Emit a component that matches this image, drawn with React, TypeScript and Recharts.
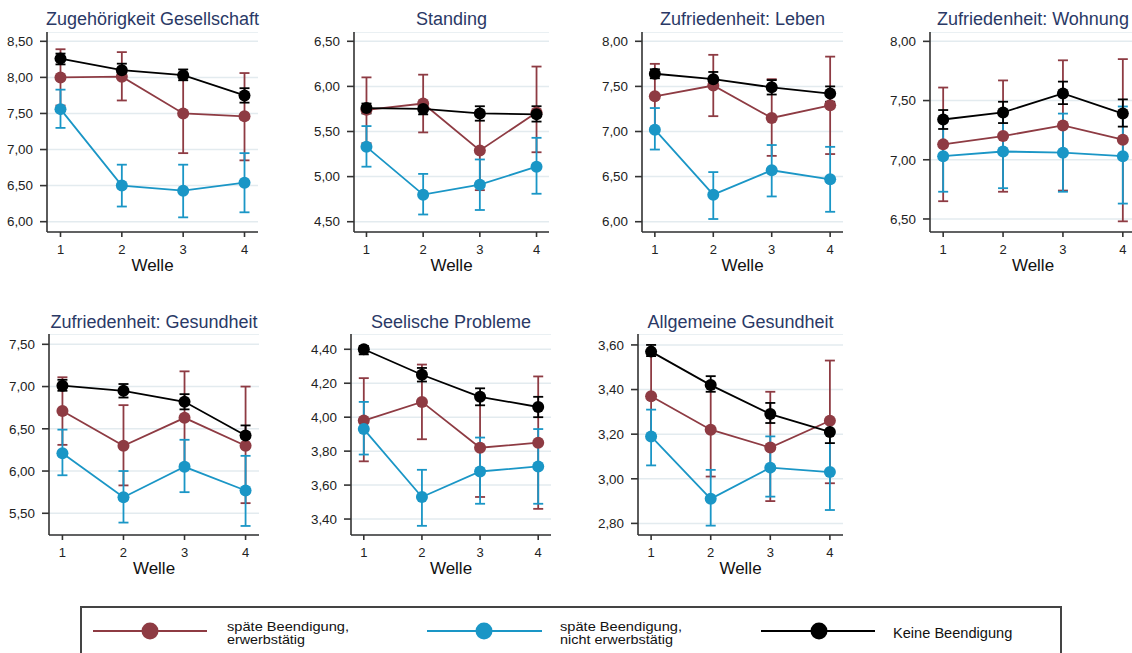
import React from 'react';
import { LineChart, Line, XAxis, YAxis, CartesianGrid, ErrorBar } from 'recharts';

// Wellen (x-Achse)
const waves = [1, 2, 3, 4];

// Werte je Panel und Gruppe: [Mittelwert, KI unten, KI oben]
const gesellschaftErw = [[8.0, 7.61, 8.39], [8.01, 7.68, 8.35], [7.5, 6.95, 8.05], [7.46, 6.85, 8.06]];
const gesellschaftNicht = [[7.56, 7.3, 7.83], [6.5, 6.21, 6.79], [6.43, 6.06, 6.79], [6.54, 6.13, 6.95]];
const gesellschaftKeine = [[8.26, 8.18, 8.33], [8.1, 8.02, 8.19], [8.03, 7.96, 8.11], [7.75, 7.65, 7.85]];

const standingErw = [[5.74, 5.37, 6.1], [5.81, 5.49, 6.13], [5.29, 4.85, 5.72], [5.71, 5.27, 6.22]];
const standingNicht = [[5.33, 5.11, 5.56], [4.8, 4.58, 5.03], [4.91, 4.63, 5.19], [5.11, 4.81, 5.43]];
const standingKeine = [[5.76, 5.7, 5.81], [5.75, 5.69, 5.81], [5.7, 5.62, 5.78], [5.69, 5.61, 5.78]];

const lebenErw = [[7.39, 7.04, 7.75], [7.51, 7.17, 7.85], [7.15, 6.73, 7.58], [7.29, 6.75, 7.83]];
const lebenNicht = [[7.02, 6.8, 7.26], [6.3, 6.03, 6.55], [6.57, 6.28, 6.85], [6.47, 6.11, 6.83]];
const lebenKeine = [[7.64, 7.59, 7.69], [7.58, 7.53, 7.66], [7.49, 7.41, 7.57], [7.42, 7.33, 7.5]];

const wohnungErw = [[7.13, 6.65, 7.61], [7.2, 6.73, 7.67], [7.29, 6.74, 7.84], [7.17, 6.48, 7.85]];
const wohnungNicht = [[7.03, 6.73, 7.34], [7.07, 6.76, 7.39], [7.06, 6.73, 7.39], [7.03, 6.63, 7.45]];
const wohnungKeine = [[7.34, 7.26, 7.42], [7.4, 7.31, 7.49], [7.56, 7.47, 7.66], [7.39, 7.28, 7.51]];

const gesundheitErw = [[6.71, 6.31, 7.11], [6.3, 5.83, 6.78], [6.63, 6.08, 7.18], [6.3, 5.62, 7.0]];
const gesundheitNicht = [[6.21, 5.95, 6.49], [5.69, 5.39, 6.0], [6.05, 5.75, 6.37], [5.77, 5.35, 6.18]];
const gesundheitKeine = [[7.01, 6.95, 7.08], [6.95, 6.87, 7.03], [6.82, 6.73, 6.91], [6.42, 6.31, 6.54]];

const seelischErw = [[3.98, 3.74, 4.23], [4.09, 3.87, 4.31], [3.82, 3.53, 4.12], [3.85, 3.46, 4.24]];
const seelischNicht = [[3.93, 3.78, 4.09], [3.53, 3.36, 3.69], [3.68, 3.49, 3.88], [3.71, 3.49, 3.93]];
const seelischKeine = [[4.4, 4.37, 4.42], [4.25, 4.21, 4.29], [4.12, 4.07, 4.17], [4.06, 4.0, 4.12]];

const allgemeinErw = [[3.37, 3.19, 3.56], [3.22, 3.01, 3.43], [3.14, 2.9, 3.39], [3.26, 2.98, 3.53]];
const allgemeinNicht = [[3.19, 3.06, 3.31], [2.91, 2.79, 3.04], [3.05, 2.92, 3.19], [3.03, 2.86, 3.2]];
const allgemeinKeine = [[3.57, 3.55, 3.6], [3.42, 3.39, 3.46], [3.29, 3.25, 3.34], [3.21, 3.16, 3.26]];

// Achsenbeschriftungen
const ticksGesellschaft = [6, 6.5, 7, 7.5, 8, 8.5];
const ticksStanding = [4.5, 5, 5.5, 6, 6.5];
const ticksLeben = [6, 6.5, 7, 7.5, 8];
const ticksWohnung = [6.5, 7, 7.5, 8];
const ticksGesundheit = [5.5, 6, 6.5, 7, 7.5];
const ticksSeelisch = [3.4, 3.6, 3.8, 4.0, 4.2, 4.4];
const ticksAllgemein = [2.8, 3.0, 3.2, 3.4, 3.6];

const titles = [
  'Zugehörigkeit Gesellschaft',
  'Standing',
  'Zufriedenheit: Leben',
  'Zufriedenheit: Wohnung',
  'Zufriedenheit: Gesundheit',
  'Seelische Probleme',
  'Allgemeine Gesundheit',
];

const legendLabels = [
  ['späte Beendigung,', 'erwerbstätig'],
  ['späte Beendigung,', 'nicht erwerbstätig'],
  ['Keine Beendigung'],
];

const panels = [
  { erw: gesellschaftErw, nicht: gesellschaftNicht, keine: gesellschaftKeine, ticks: ticksGesellschaft, domain: [5.857, 8.629] },
  { erw: standingErw, nicht: standingNicht, keine: standingKeine, ticks: ticksStanding, domain: [4.386, 6.603] },
  { erw: lebenErw, nicht: lebenNicht, keine: lebenKeine, ticks: ticksLeben, domain: [5.886, 8.103] },
  { erw: wohnungErw, nicht: wohnungNicht, keine: wohnungKeine, ticks: ticksWohnung, domain: [6.39, 8.079] },
  { erw: gesundheitErw, nicht: gesundheitNicht, keine: gesundheitKeine, ticks: ticksGesundheit, domain: [5.243, 7.622] },
  { erw: seelischErw, nicht: seelischNicht, keine: seelischKeine, ticks: ticksSeelisch, domain: [3.306, 4.49] },
  { erw: allgemeinErw, nicht: allgemeinNicht, keine: allgemeinKeine, ticks: ticksAllgemein, domain: [2.748, 3.649] },
];

// Layout (Pixel)
const layout = [
  { axisX: 47, plotW: 211, top: 32, plotH: 200 },
  { axisX: 354, plotW: 195, top: 32, plotH: 200 },
  { axisX: 642, plotW: 201, top: 32, plotH: 200 },
  { axisX: 930, plotW: 206, top: 32, plotH: 200 },
  { axisX: 49, plotW: 210, top: 334, plotH: 201 },
  { axisX: 351, plotW: 200, top: 334, plotH: 201 },
  { axisX: 638, plotW: 205, top: 334, plotH: 201 },
];

const RED = '#8e3b43';
const BLUE = '#1a96c6';
const BLACK = '#000000';
const COLORS = [RED, BLUE, BLACK];
const TITLE_COLOR = '#2a3966';
const FONT = '"Liberation Sans", Arial, Helvetica, sans-serif';
const Y_AXIS_W = 47;
const X_AXIS_H = 45;

const fmt = (v: number) => v.toFixed(2).replace('.', ',');

function buildRows(p: any) {
  return waves.map((x, i) => ({
    x,
    erw: p.erw[i][0],
    erwErr: [p.erw[i][0] - p.erw[i][1], p.erw[i][2] - p.erw[i][0]],
    nicht: p.nicht[i][0],
    nichtErr: [p.nicht[i][0] - p.nicht[i][1], p.nicht[i][2] - p.nicht[i][0]],
    keine: p.keine[i][0],
    keineErr: [p.keine[i][0] - p.keine[i][1], p.keine[i][2] - p.keine[i][0]],
  }));
}

function Panel({ p, l }: { p: any; l: any }) {
  const rows = buildRows(p);
  const width = Y_AXIS_W + l.plotW + 4;
  const height = l.plotH + X_AXIS_H;
  const keys = ['erw', 'nicht', 'keine'];
  return (
    <div style={{ position: 'absolute', left: l.axisX - Y_AXIS_W, top: l.top, width, height }}>
      <LineChart width={width} height={height} data={rows} margin={{ top: 0, right: 4, bottom: 0, left: 0 }}>
        <CartesianGrid vertical={false} stroke="#e3ebef" strokeWidth={1.5} />
        <XAxis
          dataKey="x"
          type="number"
          domain={[0.78, 4.22]}
          ticks={waves}
          allowDataOverflow
          height={X_AXIS_H}
          tickSize={5}
          tickMargin={8}
          stroke="#333"
          strokeWidth={1.6}
          tick={{ fill: '#222', fontSize: 13, fontFamily: FONT }}
          label={{ value: 'Welle', position: 'insideBottom', offset: 6, fill: '#111', fontSize: 17, fontFamily: FONT }}
        />
        <YAxis
          type="number"
          domain={p.domain}
          ticks={p.ticks}
          allowDataOverflow
          width={Y_AXIS_W}
          tickSize={7}
          tickMargin={7}
          stroke="#333"
          strokeWidth={1.6}
          tickFormatter={fmt}
          tick={{ fill: '#222', fontSize: 13.4, fontFamily: FONT }}
        />
        {keys.map((k, idx) => (
          <Line
            key={k}
            dataKey={k}
            type="linear"
            stroke={COLORS[idx]}
            strokeWidth={1.8}
            dot={{ r: 6, fill: COLORS[idx], stroke: COLORS[idx], strokeWidth: 0 }}
            activeDot={false}
            isAnimationActive={false}
          >
            <ErrorBar dataKey={k + 'Err'} direction="y" width={5} stroke={COLORS[idx]} strokeWidth={1.8} />
          </Line>
        ))}
      </LineChart>
    </div>
  );
}

const legendItems = [
  { lineX1: 93, lineX2: 207, dotX: 150, textX: 227, widths: [122, 78] },
  { lineX1: 427, lineX2: 542, dotX: 484, textX: 560, widths: [122, 113] },
  { lineX1: 761, lineX2: 875, dotX: 819, textX: 893, widths: [119] },
];

export default function App() {
  return (
    <div style={{ position: 'fixed', left: 0, top: 0, width: 1132, height: 653, overflow: 'hidden', background: '#fff', fontFamily: FONT }}>
      {panels.map((p, i) => (
        <Panel key={i} p={p} l={layout[i]} />
      ))}
      <svg width={1132} height={653} style={{ position: 'absolute', left: 0, top: 0, pointerEvents: 'none' }}>
        {titles.map((t, i) => {
          const l = layout[i];
          return (
            <text
              key={t}
              x={l.axisX + l.plotW / 2}
              y={i < 4 ? 25 : 328}
              textAnchor="middle"
              fontSize={18}
              fontFamily={FONT}
              fill={TITLE_COLOR}
            >
              {t}
            </text>
          );
        })}
        <rect x={81} y={607} width={980} height={70} fill="none" stroke="#444" strokeWidth={2} />
        {legendItems.map((it, i) => (
          <g key={i}>
            <line x1={it.lineX1} x2={it.lineX2} y1={631} y2={631} stroke={COLORS[i]} strokeWidth={2} />
            <circle cx={it.dotX} cy={631} r={8.5} fill={COLORS[i]} />
            {legendLabels[i].length === 2 ? (
              legendLabels[i].map((s, j) => (
                <text
                  key={j}
                  x={it.textX}
                  y={631 + j * 13}
                  fontSize={12.8}
                  fontFamily={FONT}
                  fill="#111"
                  textLength={it.widths[j]}
                  lengthAdjust="spacingAndGlyphs"
                >
                  {s}
                </text>
              ))
            ) : (
              <text x={it.textX} y={637.5} fontSize={14.6} fontFamily={FONT} fill="#111">
                {legendLabels[i][0]}
              </text>
            )}
          </g>
        ))}
      </svg>
    </div>
  );
}
